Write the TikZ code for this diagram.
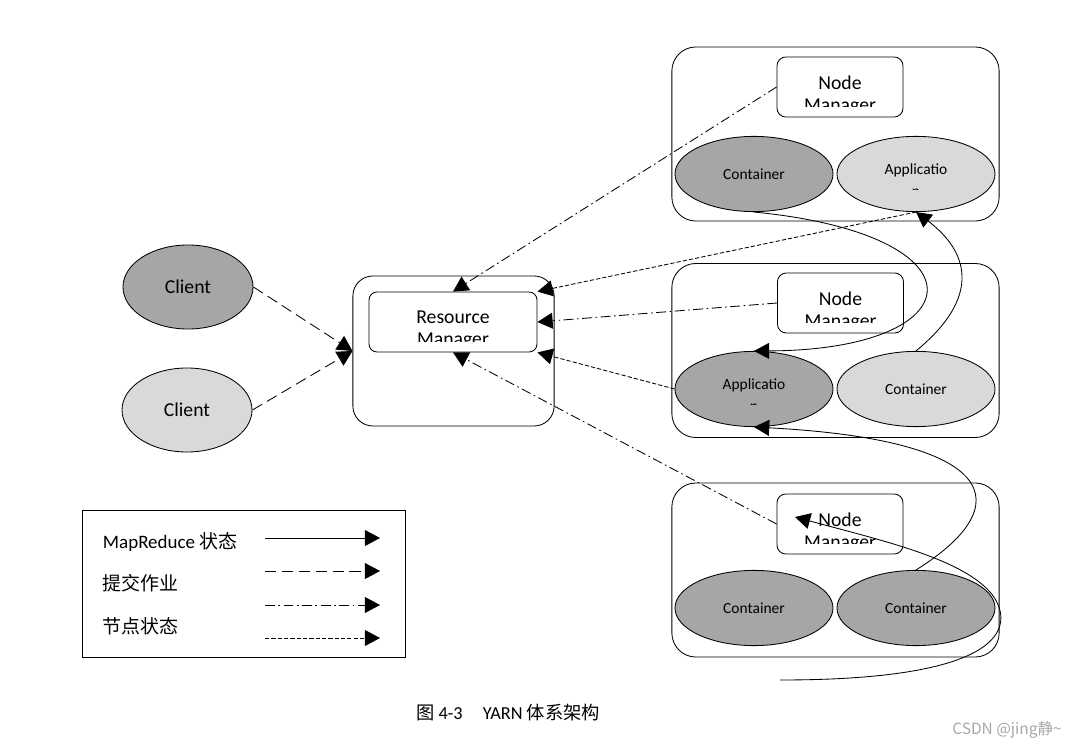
\documentclass[tikz,border=0pt]{standalone}
\usepackage{fontspec}
\setmainfont{Carlito}
\newfontfamily\cjk{Noto Sans CJK SC}
\usetikzlibrary{arrows.meta,shapes.geometric}
\definecolor{DarkCell}{RGB}{166,166,166}
\definecolor{LightCell}{RGB}{217,217,217}
\tikzset{
  client/.style={ellipse,draw,line width=0.6pt,minimum width=3.25cm,
    minimum height=2.1cm,font=\fontsize{14}{16}\selectfont},
  cell/.style={ellipse,draw,line width=0.6pt,minimum width=3.95cm,
    minimum height=1.88cm,font=\fontsize{11}{13}\selectfont},
  hostbox/.style={draw,rounded corners=0.6cm,line width=0.6pt,
    minimum width=8.18cm,minimum height=4.35cm},
  cuttext/.style={draw=none,fill=none,shape=rectangle,inner sep=0pt,
    minimum width=0pt,minimum height=0pt,align=center},
  managerbox/.style={draw,rounded corners=0.22cm,fill=white,line width=0.6pt,
    minimum width=#1,minimum height=1.5cm,
    path picture={
      \clip ([yshift=0.26cm]path picture bounding box.south west)
        rectangle (path picture bounding box.north east);
      \node[cuttext,font=\fontsize{14}{15.5}\selectfont]
        at ([yshift=-0.2cm]path picture bounding box.center) {\mgrtext};}},
  apptext/.style={path picture={
      \clip ([yshift=0.56cm]path picture bounding box.south west)
        rectangle (path picture bounding box.north east);
      \node[cuttext,font=\fontsize{11}{15.5}\selectfont]
        at ([yshift=-0.15cm]path picture bounding box.center) {Applicatio\\n};}},
  >={Triangle[length=0.38cm,width=0.4cm]},
  mrline/.style={->,line width=0.6pt},
  submitline/.style={->,line width=0.6pt,dash pattern=on 8pt off 4pt},
  nodeline/.style={->,line width=0.6pt,dash pattern=on 7pt off 2.5pt on 1.2pt off 2.5pt},
  appline/.style={->,line width=0.6pt,dash pattern=on 3pt off 1.5pt}
}
\newcommand{\mgrtext}{Node\\Manager}

\begin{document}
\begin{tikzpicture}[x=0.025cm,y=-0.025cm]
\useasboundingbox (0,0) rectangle (1080,748);

% clients
\node[client,fill=DarkCell] (c1) at (188,287) {Client};
\node[client,fill=LightCell] (c2) at (187,410) {Client};

% resource manager
\node[hostbox,rounded corners=0.5cm,minimum width=5.03cm,minimum height=3.75cm] (rm) at (453.5,351) {};
\begin{scope}
  \def\mgrtext{Resource\\Manager}
  \node[managerbox=4.2cm,rounded corners=0.2cm] (rmin) at (453,322) {};
\end{scope}

% node hosts
\node[hostbox] (h1) at (835.5,134) {};
\node[hostbox] (h2) at (835.5,350.5) {};
\node[hostbox] (h3) at (835.5,570) {};

\node[managerbox=3.15cm] (nm1) at (840,87) {};
\node[managerbox=3.15cm] (nm2) at (840.5,303) {};
\node[managerbox=3.15cm] (nm3) at (840,524) {};

\node[cell,fill=DarkCell] (ct1) at (754,174) {Container};
\node[cell,fill=LightCell,apptext] (app1) at (916,174) {};
\node[cell,fill=DarkCell,apptext] (app2) at (754,389) {};
\node[cell,fill=LightCell] (ct2) at (916,389) {Container};
\node[cell,fill=DarkCell] (ct3) at (754,608) {Container};
\node[cell,fill=DarkCell] (ct4) at (916,608) {Container};

% job submission
\draw[submitline] (c1.east) -- (rm.west);
\draw[submitline] (c2.east) -- (rm.west);

% node state
\draw[nodeline] (nm1.west) -- (rmin.north);
\draw[nodeline] (nm2.west) -- (rmin.east);
\draw[nodeline] (nm3.west) -- (rmin.south);

% application master state
\draw[appline] (app1.south) -- (rmin.north east);
\draw[appline] (app2.west) -- (rmin.south east);

% mapreduce state
\coordinate (loopst) at (780,680);
\coordinate (loopend) at (795,517);
\draw[mrline] (ct1.south) .. controls (990,235) and (975,350) .. (app2.north);
\draw[mrline] (ct2.north) .. controls (990,290) and (960,245) .. (app1.south);
\draw[mrline] (ct4.north) .. controls (1020,505) and (1000,440) .. (app2.south);
\draw[mrline] (loopst) .. controls (1030,680) and (1010,615) .. (990,592)
  .. controls (960,558) and (880,540) .. (loopend);

% legend
\draw[line width=0.6pt] (82,510) rectangle (405,657);
\node[anchor=west,font=\fontsize{13.5}{15}\selectfont] (lg1) at (98,542) {MapReduce {\cjk 状态}};
\node[anchor=west,font=\cjk\fontsize{13.5}{15}\selectfont] (lg2) at (98,583) {提交作业};
\node[anchor=west,font=\cjk\fontsize{13.5}{15}\selectfont] (lg3) at (98,626) {节点状态};
\foreach \y/\sty in {538/mrline,571/submitline,605/nodeline,638/appline}
  \draw[\sty] (265,\y) -- (380,\y);

% caption
\node[font=\fontsize{13}{15}\selectfont] (cap) at (508,713)
  {{\cjk 图} 4-3\hspace{1.1em}YARN {\cjk 体系架构}};
\node[text=gray!70,font=\cjk\fontsize{11}{13}\selectfont] (mark) at (1007,730)
  {CSDN @jing静\textasciitilde};

\end{tikzpicture}
\end{document}
